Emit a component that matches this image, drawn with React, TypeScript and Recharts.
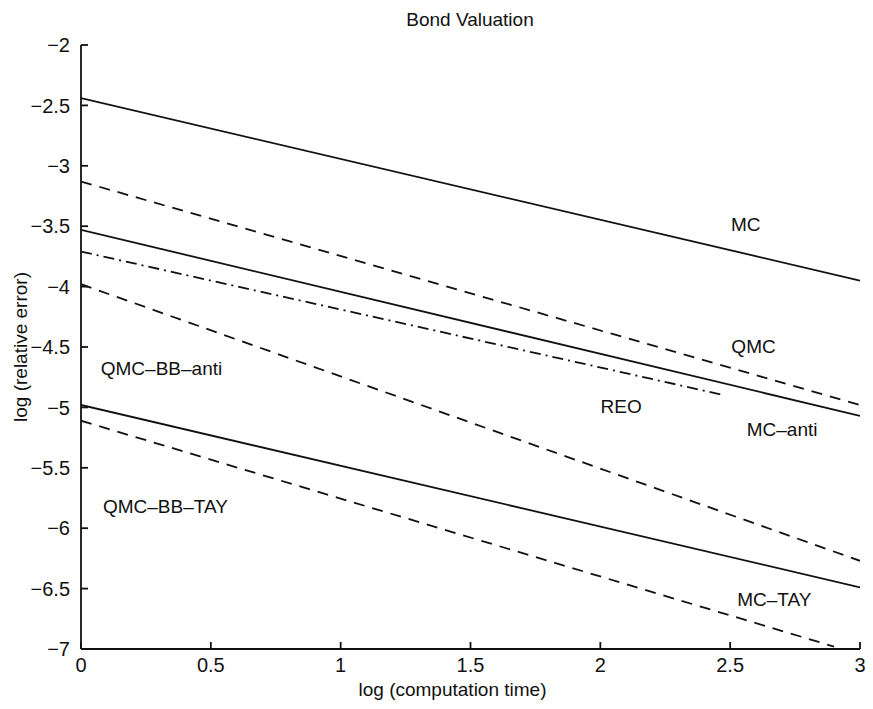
import {
  LineChart,
  Line,
  XAxis,
  YAxis,
  ReferenceDot,
  Label,
} from "recharts";

const xTicks = [0, 0.5, 1, 1.5, 2, 2.5, 3];
const yTicks = [-7, -6.5, -6, -5.5, -5, -4.5, -4, -3.5, -3, -2.5, -2];

// log(relative error) endpoints
const mc = [
  { x: 0, y: -2.44 },
  { x: 3, y: -3.95 },
];
const qmc = [
  { x: 0, y: -3.13 },
  { x: 3, y: -4.98 },
];
const mcAnti = [
  { x: 0, y: -3.53 },
  { x: 3, y: -5.07 },
];
const reo = [
  { x: 0, y: -3.71 },
  { x: 2.48, y: -4.9 },
];
const qmcBBAnti = [
  { x: 0, y: -3.98 },
  { x: 3, y: -6.27 },
];
const mcTay = [
  { x: 0, y: -4.98 },
  { x: 3, y: -6.49 },
];
const qmcBBTay = [
  { x: 0, y: -5.11 },
  { x: 2.9, y: -6.98 },
];

const notes = [
  { text: "MC", x: 2.56, y: -3.48 },
  { text: "QMC", x: 2.59, y: -4.49 },
  { text: "MC\u2013anti", x: 2.7, y: -5.18 },
  { text: "REO", x: 2.08, y: -4.99 },
  { text: "QMC\u2013BB\u2013anti", x: 0.31, y: -4.68 },
  { text: "QMC\u2013BB\u2013TAY", x: 0.325, y: -5.82 },
  { text: "MC\u2013TAY", x: 2.67, y: -6.585 },
];

const FONT = '"Liberation Sans", Arial, sans-serif';
const INK = "#111";
const TICK = 7;
const GAP = 8;

const fmt = (v: number) => String(v).replace("-", "\u2212");

// MATLAB-style ticks: marks point into the plot box
const BottomTick = ({ x, y, payload }: any) => (
  <g>
    <line x1={x} x2={x} y1={y - GAP} y2={y - GAP - TICK} stroke={INK} strokeWidth={1.8} />
    <text x={x} y={y} dy="0.75em" textAnchor="middle" fill={INK} fontSize={20} fontFamily={FONT}>
      {fmt(payload.value)}
    </text>
  </g>
);

const LeftTick = ({ x, y, payload }: any) => (
  <g>
    <line x1={x + GAP} x2={x + GAP + TICK} y1={y} y2={y} stroke={INK} strokeWidth={1.8} />
    <text x={x - 3} y={y} dy="0.36em" textAnchor="end" fill={INK} fontSize={20} fontFamily={FONT}>
      {fmt(payload.value)}
    </text>
  </g>
);

const TopTick = ({ x, y }: any) => (
  <line x1={x} x2={x} y1={y} y2={y + TICK} stroke={INK} strokeWidth={1.8} />
);

const RightTick = ({ x, y }: any) => (
  <line x1={x} x2={x - TICK} y1={y} y2={y} stroke={INK} strokeWidth={1.8} />
);

const YTitle = ({ viewBox }: any) => {
  const cx = viewBox.x + 9;
  const cy = viewBox.y + viewBox.height / 2;
  return (
    <text
      x={cx}
      y={cy}
      transform={`rotate(-90, ${cx}, ${cy})`}
      textAnchor="middle"
      dominantBaseline="central"
      fontFamily={FONT}
      fontSize={19}
      fill={INK}
    >
      log (relative error)
    </text>
  );
};

export default function App() {
  const lineProps = {
    type: "linear" as const,
    dataKey: "y",
    stroke: INK,
    strokeWidth: 1.8,
    dot: false,
    activeDot: false,
    isAnimationActive: false,
  };
  return (
    <div style={{ position: "absolute", left: 0, top: 0, width: 873, height: 709, background: "#fff" }}>
      <div
        style={{
          position: "absolute",
          left: 370,
          width: 200,
          top: 9,
          textAlign: "center",
          fontFamily: FONT,
          fontSize: 19,
          lineHeight: "22px",
          color: INK,
        }}
      >
        Bond Valuation
      </div>
      <LineChart
        width={873}
        height={709}
        margin={{ top: 45, right: 13, left: 11, bottom: 0 }}
        style={{ fontFamily: FONT }}
      >
        <XAxis
          xAxisId={0}
          type="number"
          dataKey="x"
          domain={[0, 3]}
          ticks={xTicks}
          height={60}
          stroke={INK}
          strokeWidth={1.8}
          tickLine={false}
          tickSize={0}
          tickMargin={GAP}
          tick={<BottomTick />}
          interval={0}
          allowDataOverflow
        >
          <Label
            value="log (computation time)"
            position="insideBottom"
            offset={13}
            dx={-18}
            fill={INK}
            fontSize={19}
          />
        </XAxis>
        <XAxis
          xAxisId="top"
          orientation="top"
          type="number"
          dataKey="x"
          domain={[0, 3]}
          ticks={xTicks}
          height={0}
          stroke={INK}
          strokeWidth={1.8}
          tickLine={false}
          tickSize={0}
          tickMargin={0}
          tick={<TopTick />}
          interval={0}
          allowDataOverflow
        />
        <YAxis
          yAxisId={0}
          type="number"
          domain={[-7, -2]}
          ticks={yTicks}
          width={70}
          stroke={INK}
          strokeWidth={1.8}
          tickLine={false}
          tickSize={0}
          tickMargin={GAP}
          tick={<LeftTick />}
          interval={0}
          allowDataOverflow
          label={<YTitle />}
        />
        <YAxis
          yAxisId="right"
          orientation="right"
          type="number"
          domain={[-7, -2]}
          ticks={yTicks}
          width={0}
          stroke={INK}
          strokeWidth={1.8}
          tickLine={false}
          tickSize={0}
          tickMargin={0}
          tick={<RightTick />}
          interval={0}
          allowDataOverflow
        />
        <Line {...lineProps} data={mc} name="MC" />
        <Line {...lineProps} data={qmc} name="QMC" strokeDasharray="11 8" />
        <Line {...lineProps} data={mcAnti} name="MC-anti" />
        <Line {...lineProps} data={reo} name="REO" strokeDasharray="11 5 2 5" />
        <Line {...lineProps} data={qmcBBAnti} name="QMC-BB-anti" strokeDasharray="11 8" />
        <Line {...lineProps} data={mcTay} name="MC-TAY" />
        <Line {...lineProps} data={qmcBBTay} name="QMC-BB-TAY" strokeDasharray="11 8" />
        {notes.map((n) => (
          <ReferenceDot
            key={n.text}
            x={n.x}
            y={n.y}
            r={0}
            fill="none"
            stroke="none"
            ifOverflow="visible"
            label={{ value: n.text, position: "center", fill: INK, fontSize: 19 }}
          />
        ))}
      </LineChart>
    </div>
  );
}
